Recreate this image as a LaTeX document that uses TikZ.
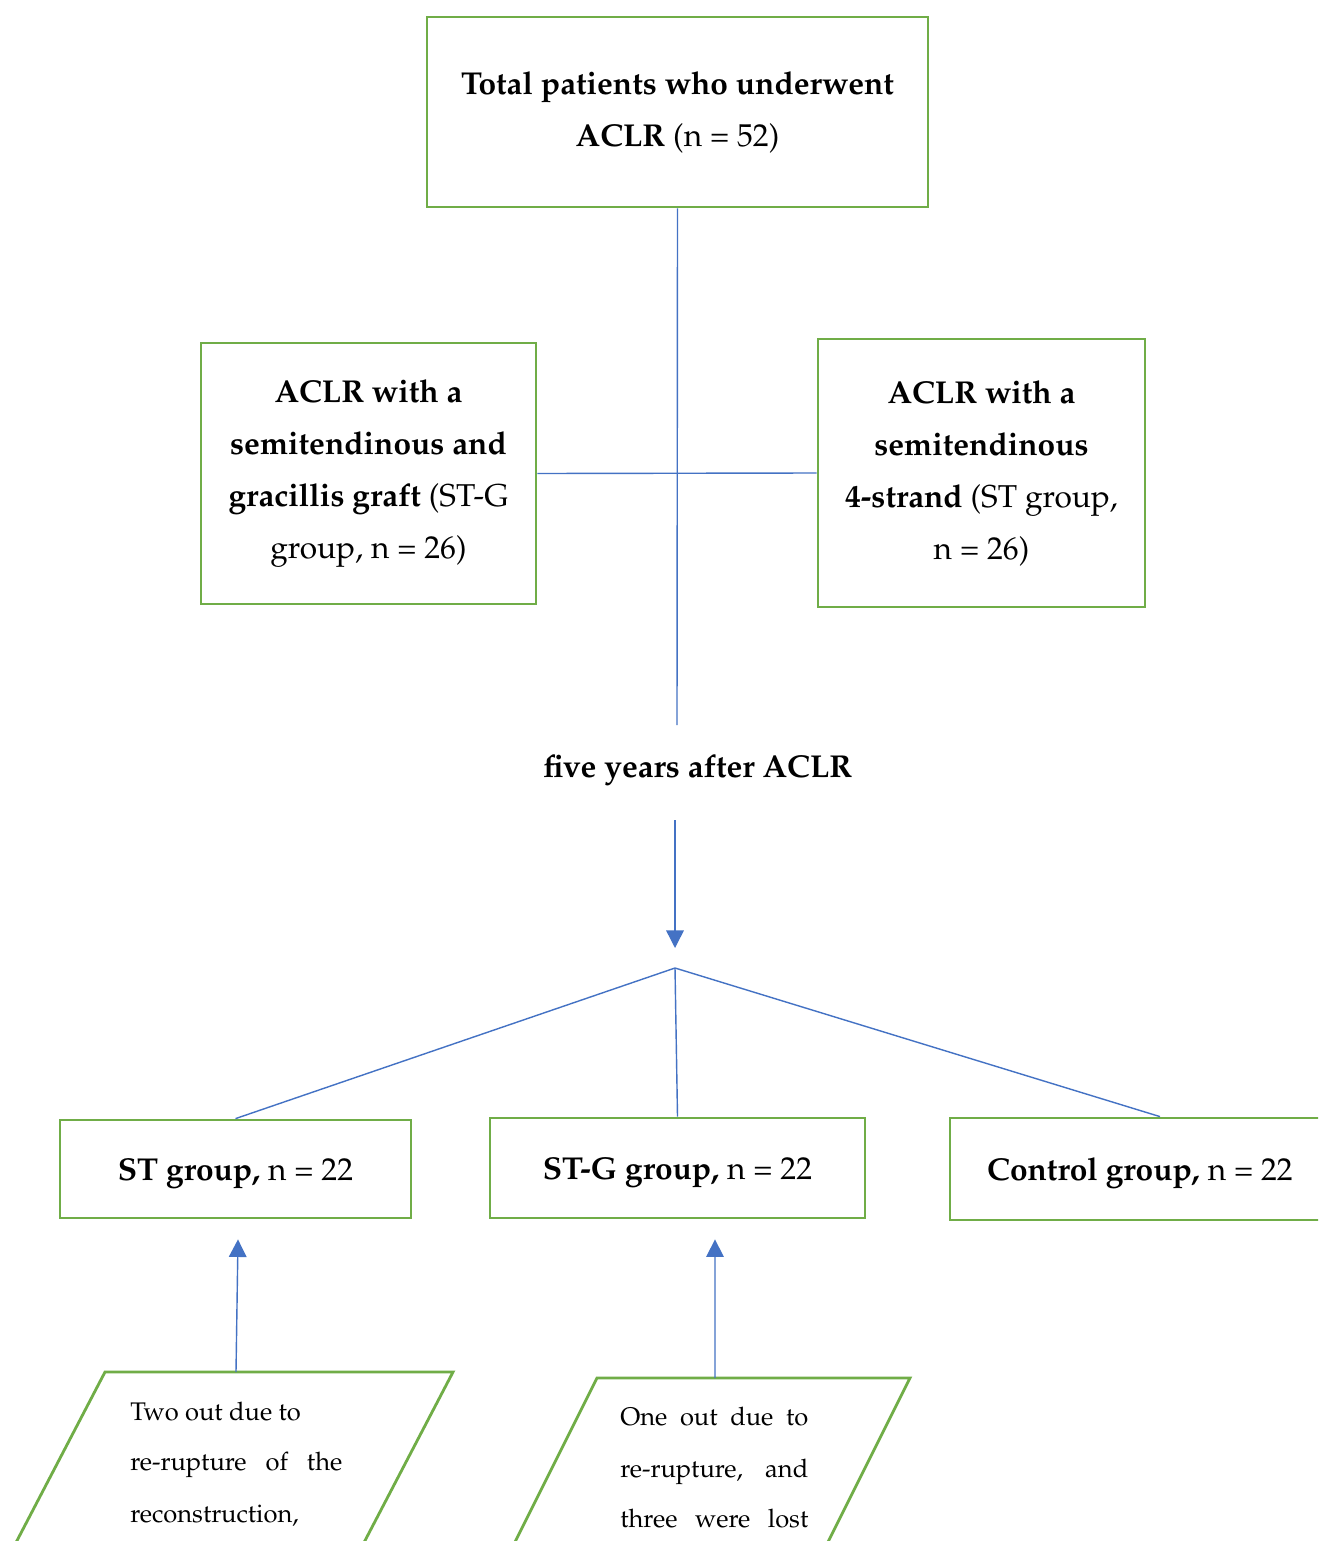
\documentclass[tikz,border=0pt]{standalone}
\usepackage[T1]{fontenc}
\usepackage{mathpazo}
\usetikzlibrary{arrows.meta}
\definecolor{boxgreen}{RGB}{112,173,71}
\definecolor{lineblue}{RGB}{68,114,196}
\begin{document}
\begin{tikzpicture}[x=0.02cm,y=-0.02cm,
  gbox/.style={draw=boxgreen,line width=1.6pt,align=center,inner sep=0pt,
    font=\fontsize{18}{29.6}\selectfont,
    execute at begin node={\rule{0pt}{18pt}}},
  conn/.style={draw=lineblue,line width=0.8pt},
  arr/.style={conn,-{Triangle[length=10pt,width=10pt]}},
  para/.style={draw=boxgreen,line width=1.6pt,fill=white},
  ptext/.style={inner sep=0pt,anchor=base west,font=\fontsize{14.5}{28.9}\selectfont}]
\useasboundingbox (0,0) rectangle (1318,1541);
\clip (0,0) rectangle (1318,1541);
\fill[white] (0,0) rectangle (1318,1541);

% top box
\node[gbox,minimum width=10.02cm,minimum height=3.8cm] (top) at (677.5,112)
  {\textbf{Total patients who underwent}\\\textbf{ACLR} (n = 52)};

% second row
\node[gbox,minimum width=6.7cm,minimum height=5.22cm] (stg) at (368.5,473.5)
  {\textbf{ACLR with a}\\\textbf{semitendinous and}\\\textbf{gracillis graft} (ST-G\\group, n = 26)};
\node[gbox,minimum width=6.54cm,minimum height=5.36cm] (st) at (981.5,473)
  {\textbf{ACLR with a}\\\textbf{semitendinous}\\\textbf{4-strand} (ST group,\\n = 26)};

\coordinate (vend) at (677,725);
\draw[conn] (top.south) -- (vend);
\draw[conn] (stg.east) -- (st.west);

% five years
\node[inner sep=0pt,font=\bfseries\fontsize{18}{29.6}\selectfont] (five) at (698,770) {five years after ACLR};

\coordinate (abeg) at (675,820);
\coordinate (aend) at (675,948);
\coordinate (j) at (675,968);
\draw[arr] (abeg) -- (aend);

% bottom row
\node[gbox,minimum width=7.02cm,minimum height=1.96cm] (bst) at (235.5,1169)
  {\textbf{ST group,} n = 22};
\node[gbox,minimum width=7.5cm,minimum height=2cm] (bstg) at (677.5,1168)
  {\textbf{ST-G group,} n = 22};
\node[gbox,minimum width=7.6cm,minimum height=2.04cm] (bctl) at (1140,1169)
  {\textbf{Control group,} n = 22};

\draw[conn] (j) -- (bst.north);
\draw[conn] (j) -- (bstg.north);
\draw[conn] (j) -- ([xshift=0.4cm]bctl.north);

% parallelograms
\draw[para] (105,1372) -- (453,1372) -- (334,1600) -- (-14,1600) -- cycle;
\draw[para] (597,1378) -- (910,1378) -- (799,1600) -- (486,1600) -- cycle;

\coordinate (p1top) at (236,1372);
\coordinate (p2top) at (715,1378);
\draw[arr] (p1top) -- ([xshift=0.05cm,yshift=-0.4cm]bst.south);
\draw[arr] (p2top) -- ([xshift=0.75cm,yshift=-0.4cm]bstg.south);

\node[ptext] (t1a) at (130,1420) {Two out due to};
\node[ptext] (t1b) at (130,1470) {\makebox[4.24cm][s]{re-rupture of the}};
\node[ptext] (t1c) at (130,1522) {reconstruction,};

\node[ptext] (t2a) at (620,1425) {\makebox[3.76cm][s]{One out due to}};
\node[ptext] (t2b) at (620,1477) {\makebox[3.76cm][s]{re-rupture, and}};
\node[ptext] (t2c) at (620,1527) {\makebox[3.76cm][s]{three were lost}};
\end{tikzpicture}
\end{document}
